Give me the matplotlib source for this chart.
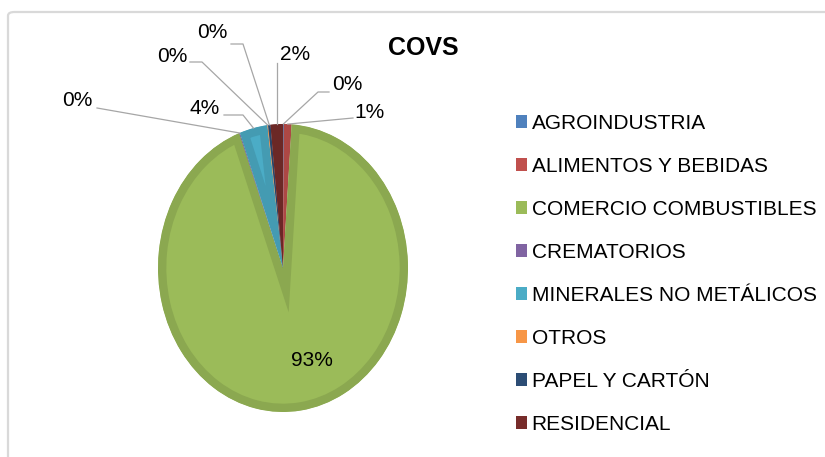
import numpy as np
import matplotlib.pyplot as plt
import matplotlib.patches as mpatches
from matplotlib.lines import Line2D
from matplotlib.colors import to_rgb

plt.rcParams['font.family'] = ['Liberation Sans', 'DejaVu Sans']

categories = ['AGROINDUSTRIA', 'ALIMENTOS Y BEBIDAS', 'COMERCIO COMBUSTIBLES',
              'CREMATORIOS', 'MINERALES NO METÁLICOS', 'OTROS',
              'PAPEL Y CARTÓN', 'RESIDENCIAL']
shares = [0.1, 1.0, 93.2, 0.1, 3.6, 0.1, 0.3, 1.6]
colors = ['#4F81BD', '#C0504D', '#9BBB59', '#8064A2',
          '#4BACC6', '#F79646', '#2C4D75', '#772C2A']

W, H = 825, 457
fig = plt.figure(figsize=(W / 100, H / 100), dpi=100)

def fx(x):
    return x / W

def fy(y):
    return 1 - y / H

# chart area frame
frame = mpatches.FancyBboxPatch((fx(8), fy(470)), fx(830), fy(12) - fy(470),
                                boxstyle='round,pad=0,rounding_size=0.008',
                                transform=fig.transFigure, facecolor='none',
                                edgecolor='#D9D9D9', linewidth=1.6, zorder=-1)
fig.patches.append(frame)

# pie drawn in a non-square box so it comes out slightly oval like the original
ax = fig.add_axes([fx(158), fy(412), fx(250), fy(124) - fy(412)])
wedges, _ = ax.pie(shares, colors=colors, startangle=90, counterclock=False,
                   radius=1, center=(0, 0), frame=False)
ax.set_aspect('auto')
ax.set_xlim(-1, 1)
ax.set_ylim(-1, 1)
ax.axis('off')

# darker inner band along each slice edge (stroke clipped to the slice)
for w, c in zip(wedges, colors):
    r, g, b = to_rgb(c)
    w.set_edgecolor((r * 0.9, g * 0.9, b * 0.9))
    w.set_linewidth(12)
    w.set_clip_on(True)
    w.set_clip_path(w)

# label positions (text centre) and elbow point, in pixels from top-left
label_pos = {
    'AGROINDUSTRIA': ((347, 84), [(329, 92), (318, 92)]),
    'ALIMENTOS Y BEBIDAS': ((369, 112), [(353, 118)]),
    'CREMATORIOS': ((77, 101), [(97, 108)]),
    'MINERALES NO METÁLICOS': ((205, 108), [(224, 115), (243, 115)]),
    'OTROS': ((172, 57), [(190, 62), (202, 62)]),
    'PAPEL Y CARTÓN': ((212, 33), [(231, 44), (243, 44)]),
    'RESIDENCIAL': ((295, 55), [(277, 63)]),
}

total = sum(shares)
for w, name, val in zip(wedges, categories, shares):
    txt = '{:.0f}%'.format(val / total * 100)
    if name == 'COMERCIO COMBUSTIBLES':
        fig.text(fx(312), fy(360), txt, fontsize=15, ha='center', va='center')
        continue
    (tx, ty), elbow = label_pos[name]
    fig.text(fx(tx), fy(ty), txt, fontsize=15, ha='center', va='center')
    mid = np.deg2rad((w.theta1 + w.theta2) / 2)
    px, py = ax.transData.transform((np.cos(mid), np.sin(mid)))
    xs = [fx(p[0]) for p in elbow] + [px / W]
    ys = [fy(p[1]) for p in elbow] + [py / H]
    if name == 'RESIDENCIAL':
        xs[-1] = xs[0]
    fig.lines.append(Line2D(xs, ys, transform=fig.transFigure,
                            color='#A6A6A6', linewidth=0.9))

fig.text(fx(423), fy(48), 'COVS', fontsize=18, fontweight='bold',
         ha='center', va='center')

handles = [mpatches.Patch(facecolor=c, edgecolor='none') for c in colors]
fig.legend(handles, categories, loc='upper left',
           bbox_to_anchor=(fx(516), fy(114)), frameon=False, fontsize=15,
           handlelength=0.55, handleheight=0.55, handletextpad=0.2,
           labelspacing=1.15, borderpad=0, borderaxespad=0)

fig.savefig('out.png', dpi=100)
